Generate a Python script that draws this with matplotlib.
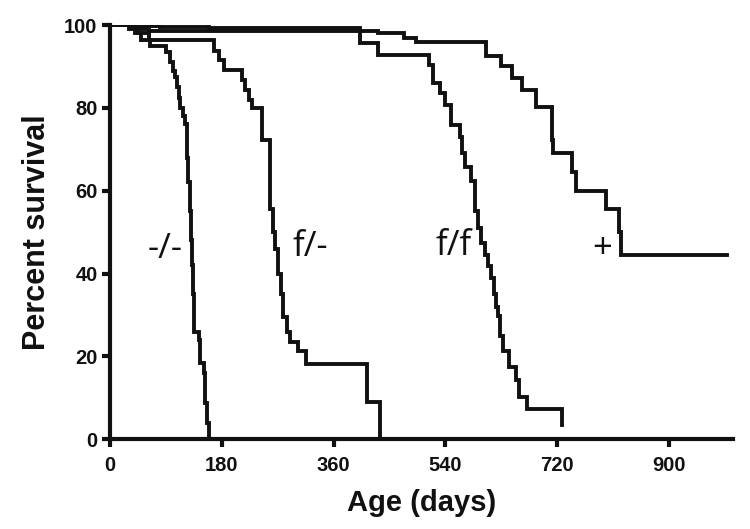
import matplotlib
matplotlib.use("Agg")
import matplotlib.pyplot as plt

# ---- data ----
ko_t = [0, 30, 40, 50, 65, 90, 97, 101, 105, 108, 111, 113, 118, 121.5, 124, 126, 128,
        130, 132, 134, 136, 143, 145.5, 150.8, 153.5, 156, 159]
ko_s = [100, 99, 98, 96.5, 95, 93.5, 91, 89, 87.5, 85, 82.5, 80, 78, 76, 68, 62, 55,
        48, 42, 35, 26, 24, 18.4, 16, 8.7, 4, 0]

fm_t = [0, 45, 62, 167, 175, 183, 212, 218, 224, 228, 244, 258, 262, 266, 270, 275,
        279, 285, 290, 303, 316, 413, 434]
fm_s = [100, 98, 96.4, 93.7, 91.6, 89.2, 86.7, 84.3, 82, 80, 72.2, 55.6, 50, 46, 40, 35,
        29.4, 26, 23.6, 21.2, 18.2, 9.1, 0]

ff_t = [0, 35, 50, 62, 402, 432, 514, 520, 531, 539, 549, 563, 567, 571, 581, 587, 592,
        597, 603, 608, 614, 618, 621, 624, 628, 632, 643, 654, 659, 672, 728]
ff_s = [100, 99.5, 99, 98.6, 95.6, 92.8, 90.4, 86, 83.5, 80.7, 75.8, 73, 69, 65.8, 62.3,
        55, 51, 47.5, 44.5, 41.8, 39, 35, 32, 29.7, 25, 21.2, 17.5, 14.3, 10.3, 7.4, 3.4]

wt_t = [0, 40, 80, 120, 160, 200, 402, 432, 474, 493, 605, 629, 648, 664, 686, 712, 714,
        744, 750, 798, 819, 823, 993]
wt_s = [100, 99.8, 99.6, 99.4, 99.3, 99.2, 98.6, 98.1, 96.8, 96, 92.4, 90, 87.1, 84.3,
        80.2, 72.2, 69, 64.5, 60, 55.6, 50, 44.4, 44.4]

curve_labels = ["-/-", "f/-", "f/f", "+"]
label_x = [88, 322, 554, 792]
label_y = [46, 46.5, 46.7, 46]

x_ticks = [0, 180, 360, 540, 720, 900]
y_ticks = [0, 20, 40, 60, 80, 100]

# ---- figure ----
fig = plt.figure(figsize=(7.5, 5.29), dpi=100)
ax = fig.add_axes([110 / 750, (529 - 439.3) / 529, (733 - 110) / 750, (439.3 - 25) / 529])

lw = 2.8
for t, s in [(ko_t, ko_s), (fm_t, fm_s), (ff_t, ff_s), (wt_t, wt_s)]:
    ax.step(t, s, where="post", color="#111111", lw=lw, solid_joinstyle="miter")

for lab, x, y in zip(curve_labels, label_x, label_y):
    ax.text(x, y, lab, ha="center", va="center", fontsize=25,
            family="Open Sans", color="#111111")

ax.set_xlim(0, 1003)
ax.set_ylim(0, 100)
ax.set_xticks(x_ticks)
ax.set_yticks(y_ticks)

for side in ["top", "right"]:
    ax.spines[side].set_visible(False)
for side in ["left", "bottom"]:
    ax.spines[side].set_linewidth(3.0)
    ax.spines[side].set_color("#111111")
    ax.spines[side].set_capstyle("projecting")

ax.tick_params(axis="both", direction="out", length=6, width=3.0, color="#111111",
               labelsize=14.5, pad=3)
ax.tick_params(axis="x", pad=6)
for lbl in ax.get_xticklabels() + ax.get_yticklabels():
    lbl.set_family("Liberation Sans")
    lbl.set_fontweight("bold")
    lbl.set_color("#111111")

ax.set_xlabel("Age (days)", fontsize=21, fontweight="bold", family="Liberation Sans",
              labelpad=10, color="#111111")
ax.set_ylabel("Percent survival", fontsize=22, fontweight="bold", family="Liberation Sans",
              labelpad=9, color="#111111")

fig.savefig("out.png", dpi=100)
